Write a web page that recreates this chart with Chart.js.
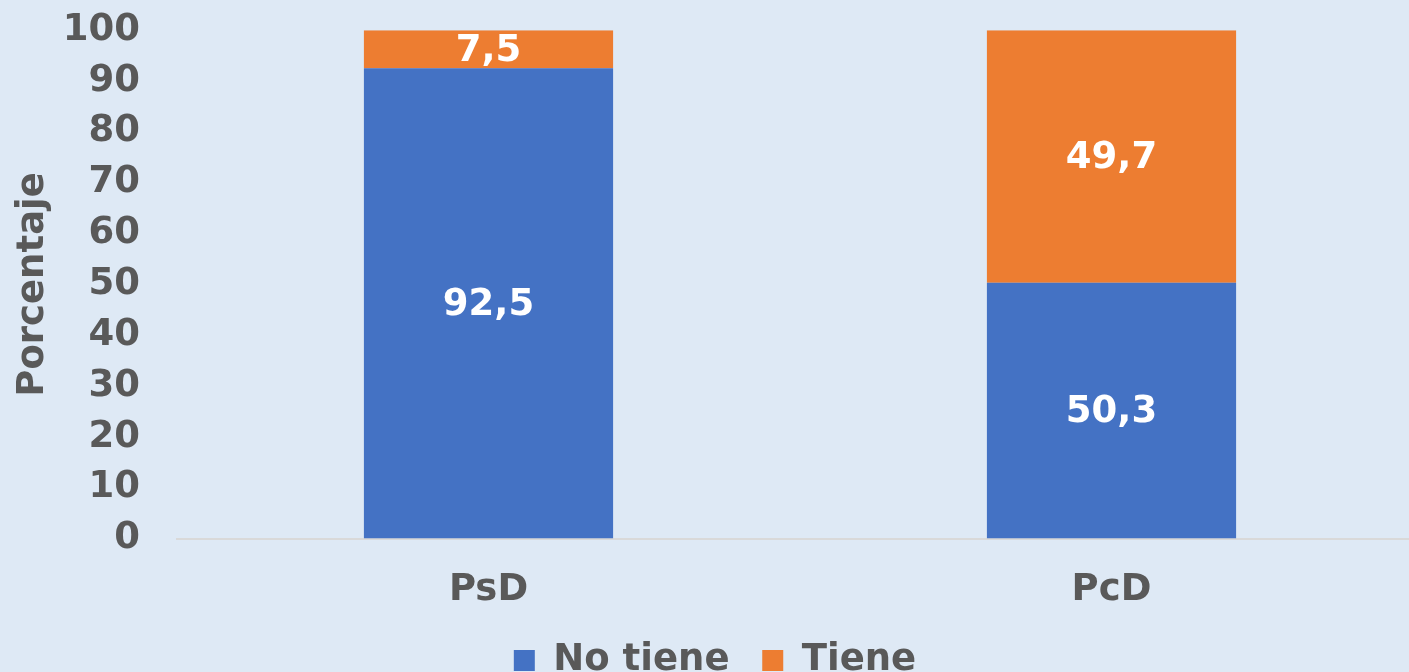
<!DOCTYPE html>
<html>
<head>
<meta charset="utf-8">
<script src="https://cdn.jsdelivr.net/npm/chart.js@4"></script>
<style>
  html, body { margin: 0; padding: 0; background: #dee9f5; overflow: hidden; }
  #wrap { position: absolute; left: 0; top: -29px; width: 1423px; height: 718px; }
</style>
</head>
<body>
<div id="wrap"><canvas id="chart"></canvas></div>
<script>
const categories = ["PsD", "PcD"];
const noTiene = [92.5, 50.3];
const tiene = [7.5, 49.7];
const yTicks = [0, 10, 20, 30, 40, 50, 60, 70, 80, 90, 100];

const textGray = "#595959";
const font = "'DejaVu Sans', Verdana, sans-serif";

// draw the value in the middle of each bar segment
const barLabels = {
  id: "barLabels",
  afterDatasetsDraw(chart) {
    const ctx = chart.ctx;
    ctx.save();
    ctx.fillStyle = "#ffffff";
    ctx.font = "bold 37px " + font;
    ctx.textAlign = "center";
    ctx.textBaseline = "middle";
    chart.data.datasets.forEach((ds, i) => {
      chart.getDatasetMeta(i).data.forEach((bar, j) => {
        const txt = ds.data[j].toFixed(1).replace(".", ",");
        ctx.fillText(txt, bar.x, (bar.y + bar.base) / 2 + 2);
      });
    });
    ctx.restore();
  }
};

new Chart(document.getElementById("chart"), {
  type: "bar",
  data: {
    labels: categories,
    datasets: [
      { label: "No tiene", data: noTiene, backgroundColor: "#4472c4", barPercentage: 0.8, categoryPercentage: 0.5 },
      { label: "Tiene", data: tiene, backgroundColor: "#ed7d31", barPercentage: 0.8, categoryPercentage: 0.5 }
    ]
  },
  options: {
    responsive: true,
    maintainAspectRatio: false,
    animation: false,
    layout: { padding: { left: 7, top: 0, bottom: 0, right: 0 } },
    plugins: {
      legend: {
        position: "bottom",
        labels: {
          color: textGray,
          font: { family: font, size: 37, weight: "bold" },
          boxWidth: 21,
          boxHeight: 21,
          padding: 7,
          // a little extra room between the two entries
          generateLabels(chart) {
            const items = Chart.defaults.plugins.legend.labels.generateLabels(chart);
            items[0].text += "  ";
            return items;
          }
        }
      },
      tooltip: { enabled: false }
    },
    scales: {
      x: {
        stacked: true,
        grid: { display: false },
        border: { color: "#d9d9d9", width: 2 },
        ticks: { color: textGray, font: { family: font, size: 37, weight: "bold" }, padding: 22 }
      },
      y: {
        stacked: true,
        min: 0,
        max: 100,
        afterBuildTicks(axis) { axis.ticks = yTicks.map(v => ({ value: v })); },
        afterFit(axis) { axis.width = 170; },
        grid: { display: false, drawTicks: false },
        border: { display: false },
        ticks: { color: textGray, font: { family: font, size: 37, weight: "bold" }, padding: 37, autoSkip: false },
        title: { display: true, text: "Porcentaje", color: textGray, font: { family: font, size: 37, weight: "bold" } }
      }
    }
  },
  plugins: [barLabels]
});
</script>
</body>
</html>
